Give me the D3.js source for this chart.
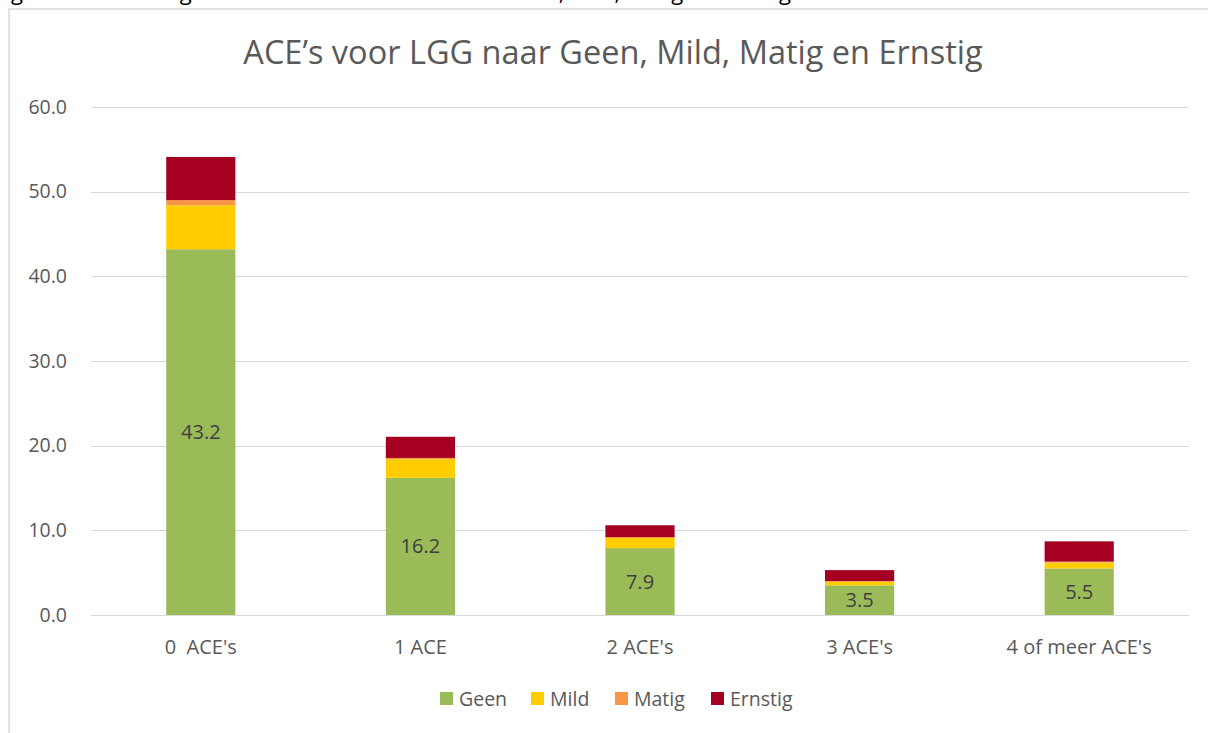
<!DOCTYPE html>
<html>
<head>
<meta charset="utf-8">
<script src="https://cdn.jsdelivr.net/npm/d3@7"></script>
<style>
  body { margin: 0; background: #fff; }
  svg text { font-family: "Open Sans", Lato, sans-serif; }
</style>
</head>
<body>
<div id="chart"></div>
<script>
// chart data
const categories = ["0  ACE's", "1 ACE", "2 ACE's", "3 ACE's", "4 of meer ACE's"];
const seriesNames = ["Geen", "Mild", "Matig", "Ernstig"];
const seriesColors = ["#9bbb59", "#ffcc00", "#f79646", "#a50021"];
const geen = [43.2, 16.2, 7.9, 3.5, 5.5];
const mild = [5.2, 2.2, 1.2, 0.45, 0.7];
const matig = [0.6, 0.15, 0.1, 0.05, 0.1];
const ernstig = [5.1, 2.5, 1.4, 1.3, 2.4];
const yTicks = [0, 10, 20, 30, 40, 50, 60];

const width = 1208, height = 733;
const margin = { top: 107, right: 19, bottom: 118, left: 91 };
const innerW = width - margin.left - margin.right;
const innerH = height - margin.top - margin.bottom;

const svg = d3.select("#chart").append("svg")
    .attr("width", width)
    .attr("height", height);

// caption line, only its descenders show at the top of the screenshot
svg.append("text")
    .attr("x", -6).attr("y", 0)
    .attr("font-size", 22).attr("fill", "#000")
    .text("Figuur 5: Percentages aantal ACE's voor LGG naar Geen, Mild, Matig en Ernstig in 2018");

// chart frame
svg.append("rect")
    .attr("x", 9).attr("y", 9)
    .attr("width", width + 10).attr("height", height + 10)
    .attr("fill", "#fff").attr("stroke", "#d9d9d9").attr("stroke-width", 1.5);

svg.append("text")
    .attr("x", 613).attr("y", 64)
    .attr("text-anchor", "middle")
    .attr("font-size", 32.5).attr("fill", "#595959")
    .text("ACE\u2019s voor LGG naar Geen, Mild, Matig en Ernstig");

const g = svg.append("g").attr("transform", "translate(" + margin.left + "," + margin.top + ")");

const x = d3.scaleBand().domain(categories).range([0, innerW]).paddingInner(0.685).paddingOuter(0.3425);
const y = d3.scaleLinear().domain([0, 60]).range([innerH, 0]);

// gridlines
g.selectAll("line.grid")
    .data(yTicks).enter()
    .append("line").attr("class", "grid")
    .attr("x1", 0).attr("x2", innerW)
    .attr("y1", d => Math.round(y(d)) + 0.5).attr("y2", d => Math.round(y(d)) + 0.5)
    .attr("stroke", "#d9d9d9").attr("stroke-width", 1);

// y axis labels
g.selectAll("text.ytick")
    .data(yTicks).enter()
    .append("text").attr("class", "ytick")
    .attr("x", -24).attr("y", d => y(d))
    .attr("dy", "0.35em")
    .attr("text-anchor", "end")
    .attr("font-size", 19.5).attr("fill", "#595959")
    .text(d => d3.format(".1f")(d));

// stacked bars
const rows = categories.map((c, i) => ({
    cat: c, Geen: geen[i], Mild: mild[i], Matig: matig[i], Ernstig: ernstig[i]
}));
const stacked = d3.stack().keys(seriesNames)(rows);

g.selectAll("g.series")
    .data(stacked).enter()
    .append("g").attr("class", "series")
    .attr("fill", (d, i) => seriesColors[i])
    .selectAll("rect")
    .data(d => d).enter()
    .append("rect")
    .attr("x", d => x(d.data.cat))
    .attr("width", x.bandwidth())
    .attr("y", d => y(d[1]))
    .attr("height", d => y(d[0]) - y(d[1]));

// value labels on Geen
g.selectAll("text.val")
    .data(rows).enter()
    .append("text").attr("class", "val")
    .attr("x", d => x(d.cat) + x.bandwidth() / 2)
    .attr("y", d => y(d.Geen / 2))
    .attr("dy", "0.35em")
    .attr("text-anchor", "middle")
    .attr("font-size", 20).attr("fill", "#404040")
    .text(d => d3.format(".1f")(d.Geen));

// category labels
g.selectAll("text.cat")
    .data(categories).enter()
    .append("text").attr("class", "cat")
    .attr("x", d => x(d) + x.bandwidth() / 2)
    .attr("y", innerH + 32)
    .attr("dy", "0.35em")
    .attr("text-anchor", "middle")
    .attr("font-size", 20).attr("fill", "#595959")
    .style("white-space", "pre")
    .text(d => d);

// legend
const legendX = [440, 531, 615, 711];
const legend = svg.selectAll("g.legend")
    .data(seriesNames).enter()
    .append("g").attr("class", "legend")
    .attr("transform", (d, i) => "translate(" + legendX[i] + ",699)");
legend.append("rect")
    .attr("x", 0).attr("y", -7)
    .attr("width", 13).attr("height", 13)
    .attr("fill", (d, i) => seriesColors[i]);
legend.append("text")
    .attr("x", 19).attr("y", 0)
    .attr("dy", "0.35em")
    .attr("font-size", 19.5).attr("fill", "#595959")
    .text(d => d);
</script>
</body>
</html>
